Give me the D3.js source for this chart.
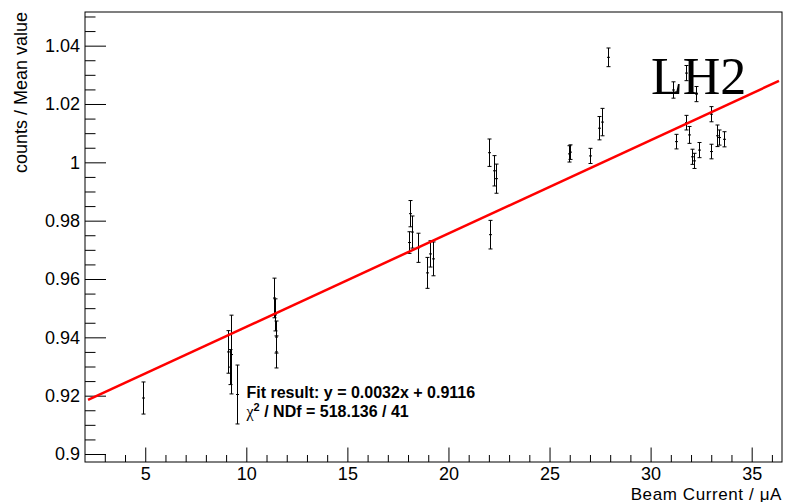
<!DOCTYPE html>
<html>
<head>
<meta charset="utf-8">
<script src="https://cdn.jsdelivr.net/npm/d3@7"></script>
<style>
  html, body { margin: 0; padding: 0; background: #fff; }
  svg { display: block; }
</style>
</head>
<body>
<svg id="chart" width="786" height="502"></svg>
<script>
// ---- data ----
const beamCurrent = [4.9, 9.11, 9.18, 9.26, 9.55, 11.38, 11.42, 11.47, 11.49,
  18.06, 18.09, 18.18, 18.47, 18.92, 19.08, 19.25,
  22.02, 22.05, 22.23, 22.36, 25.96, 25.99, 26.98, 27.44, 27.62, 27.90,
  31.09, 31.25, 31.73, 31.75, 31.91, 32.07, 32.17, 32.24, 32.40, 32.98, 33.01, 33.29, 33.38, 33.64];
const meanRatio = [0.9192, 0.9350, 0.9298, 0.9341, 0.9204, 0.9535, 0.9477, 0.9401, 0.9350,
  0.9725, 0.9824, 0.9761, 0.9707, 0.9621, 0.9686, 0.9669,
  1.0033, 0.9752, 0.9971, 0.9944, 1.0029, 1.0035, 1.0022, 1.0117, 1.0138, 1.0360,
  1.0248, 1.0071, 1.0306, 1.0136, 1.0094, 1.0019, 1.0005, 1.0234, 1.0042, 1.0037, 1.0165, 1.0091, 1.0085, 1.0079];
const ratioError = [0.0055, 0.0073, 0.0060, 0.0135, 0.0101, 0.0068, 0.0055, 0.0055, 0.0055,
  0.0037, 0.0045, 0.0055, 0.0050, 0.0053, 0.0045, 0.0058,
  0.0047, 0.0049, 0.0052, 0.0050, 0.0028, 0.0025, 0.0026, 0.0040, 0.0047, 0.0032,
  0.0028, 0.0025, 0.0026, 0.0025, 0.0029, 0.0026, 0.0026, 0.0026, 0.0026, 0.0025, 0.0026, 0.0037, 0.0026, 0.0026];
const fitSlope = 0.0032;
const fitIntercept = 0.9116;
const fitRange = [2.17, 36.35];
const xDomain = [2.02, 36.5];
const yDomain = [0.89726, 1.05154];
const xMajorTicks = [5, 10, 15, 20, 25, 30, 35];
const yMajorTicks = [0.9, 0.92, 0.94, 0.96, 0.98, 1.0, 1.02, 1.04];
const xTitle = "Beam Current / \u03BCA";
const yTitle = "counts / Mean value";
const fitLine1 = "Fit result: y = 0.0032x + 0.9116";
const fitLine2 = "/ NDf = 518.136 / 41";
const targetLabel = "LH2";

// ---- layout ----
const L = 85, R = 782, T = 12, B = 462;
const svg = d3.select("#chart");
const x = d3.scaleLinear().domain(xDomain).range([L, R]);
const y = d3.scaleLinear().domain(yDomain).range([B, T]);

const font = "'Liberation Sans', Arial, Helvetica, sans-serif";

const xMinor = d3.range(Math.ceil(xDomain[0]), Math.floor(xDomain[1]) + 1).filter(v => v % 5 !== 0);
const yMinor = d3.range(0, 31).map(i => +(0.9 + i * 0.005).toFixed(3))
  .filter(v => v <= yDomain[1] && Math.round(v * 1000) % 20 !== 0);

// minor ticks
svg.append("g").attr("transform", `translate(0,${B})`)
  .call(d3.axisBottom(x).tickValues(xMinor).tickSize(-7).tickFormat(""))
  .call(g => g.select(".domain").remove());
svg.append("g").attr("transform", `translate(${L},0)`)
  .call(d3.axisLeft(y).tickValues(yMinor).tickSize(-10.5).tickFormat(""))
  .call(g => g.select(".domain").remove());

// major ticks with labels
const xAxis = svg.append("g").attr("transform", `translate(0,${B})`)
  .call(d3.axisBottom(x).tickValues(xMajorTicks).tickSize(-14.5).tickPadding(5).tickFormat(d3.format("d")))
  .call(g => g.select(".domain").remove());
xAxis.selectAll("text").attr("font-family", font).attr("font-size", 18).attr("fill", "#000");

const yAxis = svg.append("g").attr("transform", `translate(${L},0)`)
  .call(d3.axisLeft(y).tickValues(yMajorTicks).tickSize(-21).tickPadding(5)
    .tickFormat(d => String(+d.toFixed(2))))
  .call(g => g.select(".domain").remove());
yAxis.selectAll("text").attr("font-family", font).attr("font-size", 18).attr("fill", "#000");

svg.selectAll(".tick line").attr("stroke", "#000").attr("stroke-width", 1);

// frame
svg.append("rect").attr("x", L).attr("y", T).attr("width", R - L).attr("height", B - T)
  .attr("fill", "none").attr("stroke", "#000").attr("stroke-width", 1);

// axis titles
svg.append("text").attr("x", R).attr("y", 499.5).attr("text-anchor", "end")
  .attr("font-family", font).attr("font-size", 17).attr("letter-spacing", 0.6).text(xTitle);
svg.append("text").attr("transform", `translate(27,${T}) rotate(-90)`).attr("text-anchor", "end")
  .attr("font-family", font).attr("font-size", 18).text(yTitle);

// data points with error bars
const pts = beamCurrent.map((v, i) => ({ x: v, y: meanRatio[i], e: ratioError[i] }));
const g = svg.append("g").attr("stroke", "#000").attr("stroke-width", 1).attr("fill", "none");
const cap = 2;
pts.forEach(p => {
  const px = Math.round(x(p.x)) + 0.5;
  const y0 = y(p.y - p.e), y1 = y(p.y + p.e);
  g.append("line").attr("x1", px).attr("x2", px).attr("y1", y0).attr("y2", y1);
  g.append("line").attr("x1", px - cap).attr("x2", px + cap).attr("y1", y0).attr("y2", y0);
  g.append("line").attr("x1", px - cap).attr("x2", px + cap).attr("y1", y1).attr("y2", y1);
  g.append("rect").attr("x", px - 1.5).attr("y", y(p.y) - 0.5).attr("width", 3).attr("height", 1)
    .attr("fill", "#000").attr("stroke", "none");
});

// fit line
const line = d3.line().x(d => x(d)).y(d => y(fitSlope * d + fitIntercept));
svg.append("path").datum(fitRange).attr("d", line)
  .attr("stroke", "#ff0000").attr("stroke-width", 2.5).attr("fill", "none");

// fit annotation
svg.append("text").attr("x", 246.5).attr("y", 397.5)
  .attr("font-family", font).attr("font-size", 16).attr("font-weight", "bold").text(fitLine1);
const t2 = svg.append("text").attr("x", 246.5).attr("y", 416.5)
  .attr("font-family", font).attr("font-size", 16).attr("font-weight", "bold");
t2.append("tspan").attr("font-family", "'Liberation Serif', 'DejaVu Serif', serif").attr("font-weight", "normal").text("\u03C7");
t2.append("tspan").attr("font-size", 11).attr("dy", -6).text("2");
t2.append("tspan").attr("dy", 6).text(" " + fitLine2);

// target label
svg.append("text").attr("x", 651).attr("y", 93.5)
  .attr("font-family", "'Liberation Serif', 'Times New Roman', serif").attr("font-size", 52)
  .attr("fill", "#000").text(targetLabel);
</script>
</body>
</html>
